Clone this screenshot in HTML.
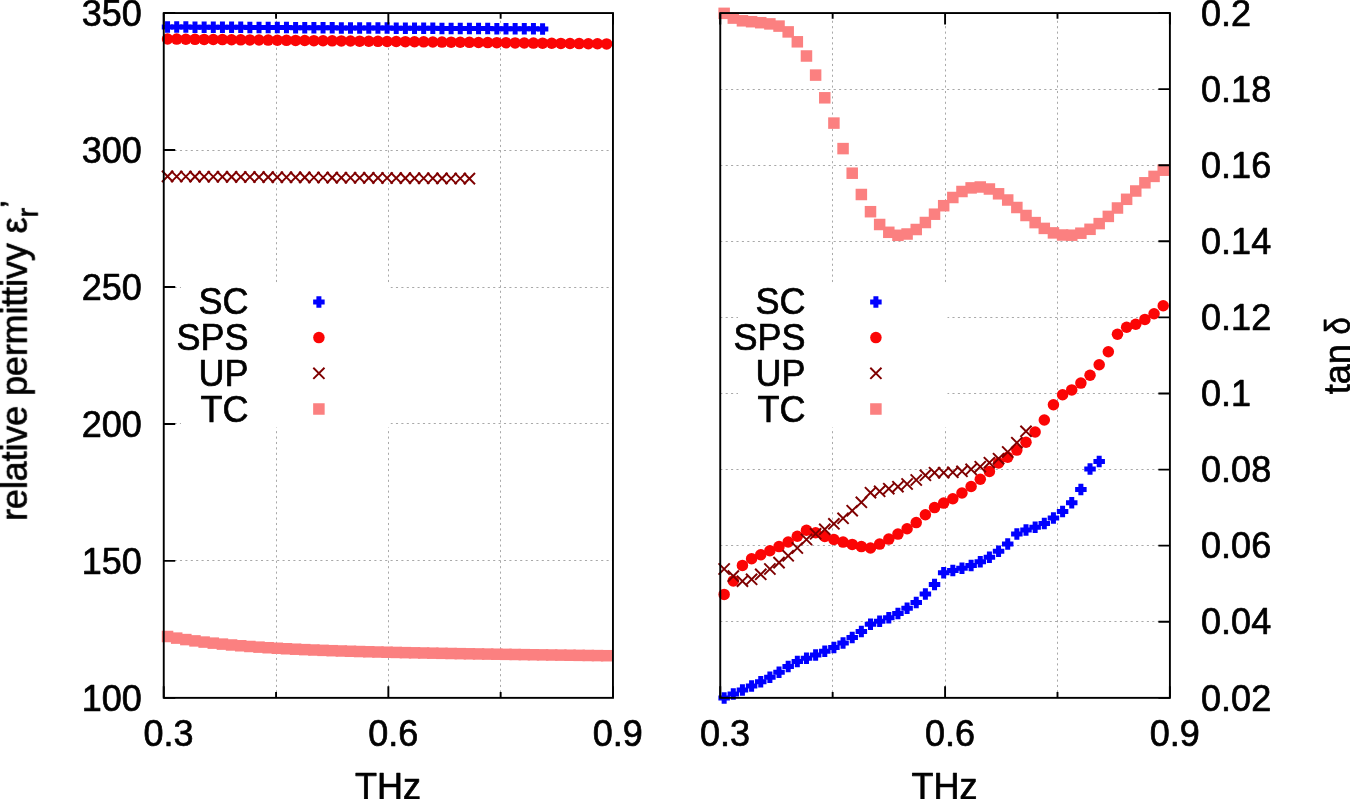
<!DOCTYPE html>
<html lang="en"><head><meta charset="utf-8"><title>plot</title>
<style>html,body{margin:0;padding:0;background:#fff}svg{display:block}</style></head>
<body>
<svg width="1350" height="799" viewBox="0 0 1350 799" font-family="'Liberation Sans', Arial, Helvetica, sans-serif" font-size="36" fill="#000">
<rect width="1350" height="799" fill="#fff"/>
<path d="M276.50 697.85V13.05" stroke="#9a9a9a" stroke-width="0.85" stroke-dasharray="2.1 3.3" fill="none"/>
<path d="M388.50 697.85V13.05" stroke="#9a9a9a" stroke-width="0.85" stroke-dasharray="2.1 3.3" fill="none"/>
<path d="M500.50 697.85V13.05" stroke="#9a9a9a" stroke-width="0.85" stroke-dasharray="2.1 3.3" fill="none"/>
<path d="M163.75 560.50H612.95" stroke="#9a9a9a" stroke-width="0.85" stroke-dasharray="2.1 3.3" fill="none"/>
<path d="M163.75 423.50H612.95" stroke="#9a9a9a" stroke-width="0.85" stroke-dasharray="2.1 3.3" fill="none"/>
<path d="M163.75 287.50H612.95" stroke="#9a9a9a" stroke-width="0.85" stroke-dasharray="2.1 3.3" fill="none"/>
<path d="M163.75 150.50H612.95" stroke="#9a9a9a" stroke-width="0.85" stroke-dasharray="2.1 3.3" fill="none"/>
<path d="M832.50 697.85V13.05" stroke="#9a9a9a" stroke-width="0.85" stroke-dasharray="2.1 3.3" fill="none"/>
<path d="M945.50 697.85V13.05" stroke="#9a9a9a" stroke-width="0.85" stroke-dasharray="2.1 3.3" fill="none"/>
<path d="M1057.50 697.85V13.05" stroke="#9a9a9a" stroke-width="0.85" stroke-dasharray="2.1 3.3" fill="none"/>
<path d="M720.25 621.50H1169.9" stroke="#9a9a9a" stroke-width="0.85" stroke-dasharray="2.1 3.3" fill="none"/>
<path d="M720.25 545.50H1169.9" stroke="#9a9a9a" stroke-width="0.85" stroke-dasharray="2.1 3.3" fill="none"/>
<path d="M720.25 469.50H1169.9" stroke="#9a9a9a" stroke-width="0.85" stroke-dasharray="2.1 3.3" fill="none"/>
<path d="M720.25 393.50H1169.9" stroke="#9a9a9a" stroke-width="0.85" stroke-dasharray="2.1 3.3" fill="none"/>
<path d="M720.25 317.50H1169.9" stroke="#9a9a9a" stroke-width="0.85" stroke-dasharray="2.1 3.3" fill="none"/>
<path d="M720.25 241.50H1169.9" stroke="#9a9a9a" stroke-width="0.85" stroke-dasharray="2.1 3.3" fill="none"/>
<path d="M720.25 165.50H1169.9" stroke="#9a9a9a" stroke-width="0.85" stroke-dasharray="2.1 3.3" fill="none"/>
<path d="M720.25 89.50H1169.9" stroke="#9a9a9a" stroke-width="0.85" stroke-dasharray="2.1 3.3" fill="none"/>
<rect x="181" y="285" width="209.5" height="142.5" fill="#fff"/>
<rect x="738" y="285" width="209.5" height="142.5" fill="#fff"/>
<path d="M165.05 21.25h5.0v3.25h3.25v5.0h-3.25v3.25h-5.0v-3.25h-3.25v-5.0h3.25z" fill="#0000ff"/>
<path d="M174.20 21.30h5.0v3.25h3.25v5.0h-3.25v3.25h-5.0v-3.25h-3.25v-5.0h3.25z" fill="#0000ff"/>
<path d="M183.34 21.34h5.0v3.25h3.25v5.0h-3.25v3.25h-5.0v-3.25h-3.25v-5.0h3.25z" fill="#0000ff"/>
<path d="M192.49 21.39h5.0v3.25h3.25v5.0h-3.25v3.25h-5.0v-3.25h-3.25v-5.0h3.25z" fill="#0000ff"/>
<path d="M201.64 21.44h5.0v3.25h3.25v5.0h-3.25v3.25h-5.0v-3.25h-3.25v-5.0h3.25z" fill="#0000ff"/>
<path d="M210.79 21.48h5.0v3.25h3.25v5.0h-3.25v3.25h-5.0v-3.25h-3.25v-5.0h3.25z" fill="#0000ff"/>
<path d="M219.93 21.53h5.0v3.25h3.25v5.0h-3.25v3.25h-5.0v-3.25h-3.25v-5.0h3.25z" fill="#0000ff"/>
<path d="M229.08 21.57h5.0v3.25h3.25v5.0h-3.25v3.25h-5.0v-3.25h-3.25v-5.0h3.25z" fill="#0000ff"/>
<path d="M238.23 21.62h5.0v3.25h3.25v5.0h-3.25v3.25h-5.0v-3.25h-3.25v-5.0h3.25z" fill="#0000ff"/>
<path d="M247.37 21.67h5.0v3.25h3.25v5.0h-3.25v3.25h-5.0v-3.25h-3.25v-5.0h3.25z" fill="#0000ff"/>
<path d="M256.52 21.71h5.0v3.25h3.25v5.0h-3.25v3.25h-5.0v-3.25h-3.25v-5.0h3.25z" fill="#0000ff"/>
<path d="M265.67 21.76h5.0v3.25h3.25v5.0h-3.25v3.25h-5.0v-3.25h-3.25v-5.0h3.25z" fill="#0000ff"/>
<path d="M274.81 21.81h5.0v3.25h3.25v5.0h-3.25v3.25h-5.0v-3.25h-3.25v-5.0h3.25z" fill="#0000ff"/>
<path d="M283.96 21.85h5.0v3.25h3.25v5.0h-3.25v3.25h-5.0v-3.25h-3.25v-5.0h3.25z" fill="#0000ff"/>
<path d="M293.11 21.90h5.0v3.25h3.25v5.0h-3.25v3.25h-5.0v-3.25h-3.25v-5.0h3.25z" fill="#0000ff"/>
<path d="M302.25 21.95h5.0v3.25h3.25v5.0h-3.25v3.25h-5.0v-3.25h-3.25v-5.0h3.25z" fill="#0000ff"/>
<path d="M311.40 21.99h5.0v3.25h3.25v5.0h-3.25v3.25h-5.0v-3.25h-3.25v-5.0h3.25z" fill="#0000ff"/>
<path d="M320.55 22.04h5.0v3.25h3.25v5.0h-3.25v3.25h-5.0v-3.25h-3.25v-5.0h3.25z" fill="#0000ff"/>
<path d="M329.70 22.08h5.0v3.25h3.25v5.0h-3.25v3.25h-5.0v-3.25h-3.25v-5.0h3.25z" fill="#0000ff"/>
<path d="M338.84 22.13h5.0v3.25h3.25v5.0h-3.25v3.25h-5.0v-3.25h-3.25v-5.0h3.25z" fill="#0000ff"/>
<path d="M347.99 22.18h5.0v3.25h3.25v5.0h-3.25v3.25h-5.0v-3.25h-3.25v-5.0h3.25z" fill="#0000ff"/>
<path d="M357.14 22.22h5.0v3.25h3.25v5.0h-3.25v3.25h-5.0v-3.25h-3.25v-5.0h3.25z" fill="#0000ff"/>
<path d="M366.28 22.27h5.0v3.25h3.25v5.0h-3.25v3.25h-5.0v-3.25h-3.25v-5.0h3.25z" fill="#0000ff"/>
<path d="M375.43 22.32h5.0v3.25h3.25v5.0h-3.25v3.25h-5.0v-3.25h-3.25v-5.0h3.25z" fill="#0000ff"/>
<path d="M384.58 22.36h5.0v3.25h3.25v5.0h-3.25v3.25h-5.0v-3.25h-3.25v-5.0h3.25z" fill="#0000ff"/>
<path d="M393.73 22.41h5.0v3.25h3.25v5.0h-3.25v3.25h-5.0v-3.25h-3.25v-5.0h3.25z" fill="#0000ff"/>
<path d="M402.87 22.45h5.0v3.25h3.25v5.0h-3.25v3.25h-5.0v-3.25h-3.25v-5.0h3.25z" fill="#0000ff"/>
<path d="M412.02 22.50h5.0v3.25h3.25v5.0h-3.25v3.25h-5.0v-3.25h-3.25v-5.0h3.25z" fill="#0000ff"/>
<path d="M421.17 22.55h5.0v3.25h3.25v5.0h-3.25v3.25h-5.0v-3.25h-3.25v-5.0h3.25z" fill="#0000ff"/>
<path d="M430.31 22.59h5.0v3.25h3.25v5.0h-3.25v3.25h-5.0v-3.25h-3.25v-5.0h3.25z" fill="#0000ff"/>
<path d="M439.46 22.64h5.0v3.25h3.25v5.0h-3.25v3.25h-5.0v-3.25h-3.25v-5.0h3.25z" fill="#0000ff"/>
<path d="M448.61 22.69h5.0v3.25h3.25v5.0h-3.25v3.25h-5.0v-3.25h-3.25v-5.0h3.25z" fill="#0000ff"/>
<path d="M457.75 22.73h5.0v3.25h3.25v5.0h-3.25v3.25h-5.0v-3.25h-3.25v-5.0h3.25z" fill="#0000ff"/>
<path d="M466.90 22.78h5.0v3.25h3.25v5.0h-3.25v3.25h-5.0v-3.25h-3.25v-5.0h3.25z" fill="#0000ff"/>
<path d="M476.05 22.83h5.0v3.25h3.25v5.0h-3.25v3.25h-5.0v-3.25h-3.25v-5.0h3.25z" fill="#0000ff"/>
<path d="M485.19 22.87h5.0v3.25h3.25v5.0h-3.25v3.25h-5.0v-3.25h-3.25v-5.0h3.25z" fill="#0000ff"/>
<path d="M494.34 22.92h5.0v3.25h3.25v5.0h-3.25v3.25h-5.0v-3.25h-3.25v-5.0h3.25z" fill="#0000ff"/>
<path d="M503.49 22.96h5.0v3.25h3.25v5.0h-3.25v3.25h-5.0v-3.25h-3.25v-5.0h3.25z" fill="#0000ff"/>
<path d="M512.64 23.01h5.0v3.25h3.25v5.0h-3.25v3.25h-5.0v-3.25h-3.25v-5.0h3.25z" fill="#0000ff"/>
<path d="M521.78 23.06h5.0v3.25h3.25v5.0h-3.25v3.25h-5.0v-3.25h-3.25v-5.0h3.25z" fill="#0000ff"/>
<path d="M530.93 23.10h5.0v3.25h3.25v5.0h-3.25v3.25h-5.0v-3.25h-3.25v-5.0h3.25z" fill="#0000ff"/>
<path d="M540.08 23.15h5.0v3.25h3.25v5.0h-3.25v3.25h-5.0v-3.25h-3.25v-5.0h3.25z" fill="#0000ff"/>
<circle cx="167.55" cy="39.00" r="5.75" fill="#fb0505"/>
<circle cx="176.70" cy="39.10" r="5.75" fill="#fb0505"/>
<circle cx="185.84" cy="39.20" r="5.75" fill="#fb0505"/>
<circle cx="194.99" cy="39.31" r="5.75" fill="#fb0505"/>
<circle cx="204.14" cy="39.41" r="5.75" fill="#fb0505"/>
<circle cx="213.29" cy="39.51" r="5.75" fill="#fb0505"/>
<circle cx="222.43" cy="39.61" r="5.75" fill="#fb0505"/>
<circle cx="231.58" cy="39.71" r="5.75" fill="#fb0505"/>
<circle cx="240.73" cy="39.82" r="5.75" fill="#fb0505"/>
<circle cx="249.87" cy="39.92" r="5.75" fill="#fb0505"/>
<circle cx="259.02" cy="40.02" r="5.75" fill="#fb0505"/>
<circle cx="268.17" cy="40.12" r="5.75" fill="#fb0505"/>
<circle cx="277.31" cy="40.23" r="5.75" fill="#fb0505"/>
<circle cx="286.46" cy="40.33" r="5.75" fill="#fb0505"/>
<circle cx="295.61" cy="40.43" r="5.75" fill="#fb0505"/>
<circle cx="304.75" cy="40.53" r="5.75" fill="#fb0505"/>
<circle cx="313.90" cy="40.63" r="5.75" fill="#fb0505"/>
<circle cx="323.05" cy="40.74" r="5.75" fill="#fb0505"/>
<circle cx="332.20" cy="40.84" r="5.75" fill="#fb0505"/>
<circle cx="341.34" cy="40.94" r="5.75" fill="#fb0505"/>
<circle cx="350.49" cy="41.04" r="5.75" fill="#fb0505"/>
<circle cx="359.64" cy="41.14" r="5.75" fill="#fb0505"/>
<circle cx="368.78" cy="41.25" r="5.75" fill="#fb0505"/>
<circle cx="377.93" cy="41.35" r="5.75" fill="#fb0505"/>
<circle cx="387.08" cy="41.45" r="5.75" fill="#fb0505"/>
<circle cx="396.23" cy="41.55" r="5.75" fill="#fb0505"/>
<circle cx="405.37" cy="41.65" r="5.75" fill="#fb0505"/>
<circle cx="414.52" cy="41.76" r="5.75" fill="#fb0505"/>
<circle cx="423.67" cy="41.86" r="5.75" fill="#fb0505"/>
<circle cx="432.81" cy="41.96" r="5.75" fill="#fb0505"/>
<circle cx="441.96" cy="42.06" r="5.75" fill="#fb0505"/>
<circle cx="451.11" cy="42.16" r="5.75" fill="#fb0505"/>
<circle cx="460.25" cy="42.27" r="5.75" fill="#fb0505"/>
<circle cx="469.40" cy="42.37" r="5.75" fill="#fb0505"/>
<circle cx="478.55" cy="42.47" r="5.75" fill="#fb0505"/>
<circle cx="487.69" cy="42.57" r="5.75" fill="#fb0505"/>
<circle cx="496.84" cy="42.67" r="5.75" fill="#fb0505"/>
<circle cx="505.99" cy="42.78" r="5.75" fill="#fb0505"/>
<circle cx="515.14" cy="42.88" r="5.75" fill="#fb0505"/>
<circle cx="524.28" cy="42.98" r="5.75" fill="#fb0505"/>
<circle cx="533.43" cy="43.08" r="5.75" fill="#fb0505"/>
<circle cx="542.58" cy="43.19" r="5.75" fill="#fb0505"/>
<circle cx="551.72" cy="43.29" r="5.75" fill="#fb0505"/>
<circle cx="560.87" cy="43.39" r="5.75" fill="#fb0505"/>
<circle cx="570.02" cy="43.49" r="5.75" fill="#fb0505"/>
<circle cx="579.16" cy="43.59" r="5.75" fill="#fb0505"/>
<circle cx="588.31" cy="43.70" r="5.75" fill="#fb0505"/>
<circle cx="597.46" cy="43.80" r="5.75" fill="#fb0505"/>
<circle cx="606.61" cy="43.90" r="5.75" fill="#fb0505"/>
<path d="M161.95 170.80l11.2 11.2M161.95 182.00l11.2 -11.2" stroke="#7f0000" stroke-width="1.95" fill="none"/>
<path d="M171.10 170.87l11.2 11.2M171.10 182.07l11.2 -11.2" stroke="#7f0000" stroke-width="1.95" fill="none"/>
<path d="M180.24 170.93l11.2 11.2M180.24 182.13l11.2 -11.2" stroke="#7f0000" stroke-width="1.95" fill="none"/>
<path d="M189.39 171.00l11.2 11.2M189.39 182.20l11.2 -11.2" stroke="#7f0000" stroke-width="1.95" fill="none"/>
<path d="M198.54 171.07l11.2 11.2M198.54 182.27l11.2 -11.2" stroke="#7f0000" stroke-width="1.95" fill="none"/>
<path d="M207.69 171.13l11.2 11.2M207.69 182.33l11.2 -11.2" stroke="#7f0000" stroke-width="1.95" fill="none"/>
<path d="M216.83 171.20l11.2 11.2M216.83 182.40l11.2 -11.2" stroke="#7f0000" stroke-width="1.95" fill="none"/>
<path d="M225.98 171.27l11.2 11.2M225.98 182.47l11.2 -11.2" stroke="#7f0000" stroke-width="1.95" fill="none"/>
<path d="M235.13 171.33l11.2 11.2M235.13 182.53l11.2 -11.2" stroke="#7f0000" stroke-width="1.95" fill="none"/>
<path d="M244.27 171.40l11.2 11.2M244.27 182.60l11.2 -11.2" stroke="#7f0000" stroke-width="1.95" fill="none"/>
<path d="M253.42 171.47l11.2 11.2M253.42 182.67l11.2 -11.2" stroke="#7f0000" stroke-width="1.95" fill="none"/>
<path d="M262.57 171.53l11.2 11.2M262.57 182.73l11.2 -11.2" stroke="#7f0000" stroke-width="1.95" fill="none"/>
<path d="M271.71 171.60l11.2 11.2M271.71 182.80l11.2 -11.2" stroke="#7f0000" stroke-width="1.95" fill="none"/>
<path d="M280.86 171.67l11.2 11.2M280.86 182.87l11.2 -11.2" stroke="#7f0000" stroke-width="1.95" fill="none"/>
<path d="M290.01 171.73l11.2 11.2M290.01 182.93l11.2 -11.2" stroke="#7f0000" stroke-width="1.95" fill="none"/>
<path d="M299.15 171.80l11.2 11.2M299.15 183.00l11.2 -11.2" stroke="#7f0000" stroke-width="1.95" fill="none"/>
<path d="M308.30 171.87l11.2 11.2M308.30 183.07l11.2 -11.2" stroke="#7f0000" stroke-width="1.95" fill="none"/>
<path d="M317.45 171.93l11.2 11.2M317.45 183.13l11.2 -11.2" stroke="#7f0000" stroke-width="1.95" fill="none"/>
<path d="M326.60 172.00l11.2 11.2M326.60 183.20l11.2 -11.2" stroke="#7f0000" stroke-width="1.95" fill="none"/>
<path d="M335.74 172.07l11.2 11.2M335.74 183.27l11.2 -11.2" stroke="#7f0000" stroke-width="1.95" fill="none"/>
<path d="M344.89 172.13l11.2 11.2M344.89 183.33l11.2 -11.2" stroke="#7f0000" stroke-width="1.95" fill="none"/>
<path d="M354.04 172.20l11.2 11.2M354.04 183.40l11.2 -11.2" stroke="#7f0000" stroke-width="1.95" fill="none"/>
<path d="M363.18 172.27l11.2 11.2M363.18 183.47l11.2 -11.2" stroke="#7f0000" stroke-width="1.95" fill="none"/>
<path d="M372.33 172.33l11.2 11.2M372.33 183.53l11.2 -11.2" stroke="#7f0000" stroke-width="1.95" fill="none"/>
<path d="M381.48 172.40l11.2 11.2M381.48 183.60l11.2 -11.2" stroke="#7f0000" stroke-width="1.95" fill="none"/>
<path d="M390.62 172.47l11.2 11.2M390.62 183.67l11.2 -11.2" stroke="#7f0000" stroke-width="1.95" fill="none"/>
<path d="M399.77 172.53l11.2 11.2M399.77 183.73l11.2 -11.2" stroke="#7f0000" stroke-width="1.95" fill="none"/>
<path d="M408.92 172.60l11.2 11.2M408.92 183.80l11.2 -11.2" stroke="#7f0000" stroke-width="1.95" fill="none"/>
<path d="M418.07 172.67l11.2 11.2M418.07 183.87l11.2 -11.2" stroke="#7f0000" stroke-width="1.95" fill="none"/>
<path d="M427.21 172.73l11.2 11.2M427.21 183.93l11.2 -11.2" stroke="#7f0000" stroke-width="1.95" fill="none"/>
<path d="M436.36 172.80l11.2 11.2M436.36 184.00l11.2 -11.2" stroke="#7f0000" stroke-width="1.95" fill="none"/>
<path d="M445.51 172.87l11.2 11.2M445.51 184.07l11.2 -11.2" stroke="#7f0000" stroke-width="1.95" fill="none"/>
<path d="M454.65 172.93l11.2 11.2M454.65 184.13l11.2 -11.2" stroke="#7f0000" stroke-width="1.95" fill="none"/>
<path d="M463.80 173.00l11.2 11.2M463.80 184.20l11.2 -11.2" stroke="#7f0000" stroke-width="1.95" fill="none"/>
<rect x="161.80" y="630.75" width="11.5" height="11.5" fill="#fb8080"/>
<rect x="170.95" y="632.37" width="11.5" height="11.5" fill="#fb8080"/>
<rect x="180.09" y="633.83" width="11.5" height="11.5" fill="#fb8080"/>
<rect x="189.24" y="635.14" width="11.5" height="11.5" fill="#fb8080"/>
<rect x="198.39" y="636.33" width="11.5" height="11.5" fill="#fb8080"/>
<rect x="207.54" y="637.39" width="11.5" height="11.5" fill="#fb8080"/>
<rect x="216.68" y="638.36" width="11.5" height="11.5" fill="#fb8080"/>
<rect x="225.83" y="639.23" width="11.5" height="11.5" fill="#fb8080"/>
<rect x="234.98" y="640.02" width="11.5" height="11.5" fill="#fb8080"/>
<rect x="244.12" y="640.73" width="11.5" height="11.5" fill="#fb8080"/>
<rect x="253.27" y="641.39" width="11.5" height="11.5" fill="#fb8080"/>
<rect x="262.42" y="641.98" width="11.5" height="11.5" fill="#fb8080"/>
<rect x="271.56" y="642.52" width="11.5" height="11.5" fill="#fb8080"/>
<rect x="280.71" y="643.01" width="11.5" height="11.5" fill="#fb8080"/>
<rect x="289.86" y="643.46" width="11.5" height="11.5" fill="#fb8080"/>
<rect x="299.00" y="643.88" width="11.5" height="11.5" fill="#fb8080"/>
<rect x="308.15" y="644.26" width="11.5" height="11.5" fill="#fb8080"/>
<rect x="317.30" y="644.61" width="11.5" height="11.5" fill="#fb8080"/>
<rect x="326.45" y="644.94" width="11.5" height="11.5" fill="#fb8080"/>
<rect x="335.59" y="645.24" width="11.5" height="11.5" fill="#fb8080"/>
<rect x="344.74" y="645.52" width="11.5" height="11.5" fill="#fb8080"/>
<rect x="353.89" y="645.79" width="11.5" height="11.5" fill="#fb8080"/>
<rect x="363.03" y="646.03" width="11.5" height="11.5" fill="#fb8080"/>
<rect x="372.18" y="646.27" width="11.5" height="11.5" fill="#fb8080"/>
<rect x="381.33" y="646.48" width="11.5" height="11.5" fill="#fb8080"/>
<rect x="390.48" y="646.69" width="11.5" height="11.5" fill="#fb8080"/>
<rect x="399.62" y="646.89" width="11.5" height="11.5" fill="#fb8080"/>
<rect x="408.77" y="647.07" width="11.5" height="11.5" fill="#fb8080"/>
<rect x="417.92" y="647.25" width="11.5" height="11.5" fill="#fb8080"/>
<rect x="427.06" y="647.42" width="11.5" height="11.5" fill="#fb8080"/>
<rect x="436.21" y="647.59" width="11.5" height="11.5" fill="#fb8080"/>
<rect x="445.36" y="647.75" width="11.5" height="11.5" fill="#fb8080"/>
<rect x="454.50" y="647.90" width="11.5" height="11.5" fill="#fb8080"/>
<rect x="463.65" y="648.05" width="11.5" height="11.5" fill="#fb8080"/>
<rect x="472.80" y="648.20" width="11.5" height="11.5" fill="#fb8080"/>
<rect x="481.94" y="648.34" width="11.5" height="11.5" fill="#fb8080"/>
<rect x="491.09" y="648.47" width="11.5" height="11.5" fill="#fb8080"/>
<rect x="500.24" y="648.61" width="11.5" height="11.5" fill="#fb8080"/>
<rect x="509.39" y="648.74" width="11.5" height="11.5" fill="#fb8080"/>
<rect x="518.53" y="648.87" width="11.5" height="11.5" fill="#fb8080"/>
<rect x="527.68" y="649.00" width="11.5" height="11.5" fill="#fb8080"/>
<rect x="536.83" y="649.12" width="11.5" height="11.5" fill="#fb8080"/>
<rect x="545.97" y="649.25" width="11.5" height="11.5" fill="#fb8080"/>
<rect x="555.12" y="649.37" width="11.5" height="11.5" fill="#fb8080"/>
<rect x="564.27" y="649.49" width="11.5" height="11.5" fill="#fb8080"/>
<rect x="573.41" y="649.61" width="11.5" height="11.5" fill="#fb8080"/>
<rect x="582.56" y="649.73" width="11.5" height="11.5" fill="#fb8080"/>
<rect x="591.71" y="649.84" width="11.5" height="11.5" fill="#fb8080"/>
<rect x="600.86" y="649.96" width="11.5" height="11.5" fill="#fb8080"/>
<path d="M721.65 692.25h5.0v3.25h3.25v5.0h-3.25v3.25h-5.0v-3.25h-3.25v-5.0h3.25z" fill="#0000ff"/>
<path d="M730.80 688.35h5.0v3.25h3.25v5.0h-3.25v3.25h-5.0v-3.25h-3.25v-5.0h3.25z" fill="#0000ff"/>
<path d="M739.94 684.35h5.0v3.25h3.25v5.0h-3.25v3.25h-5.0v-3.25h-3.25v-5.0h3.25z" fill="#0000ff"/>
<path d="M749.09 680.35h5.0v3.25h3.25v5.0h-3.25v3.25h-5.0v-3.25h-3.25v-5.0h3.25z" fill="#0000ff"/>
<path d="M758.24 676.05h5.0v3.25h3.25v5.0h-3.25v3.25h-5.0v-3.25h-3.25v-5.0h3.25z" fill="#0000ff"/>
<path d="M767.38 671.45h5.0v3.25h3.25v5.0h-3.25v3.25h-5.0v-3.25h-3.25v-5.0h3.25z" fill="#0000ff"/>
<path d="M776.53 666.55h5.0v3.25h3.25v5.0h-3.25v3.25h-5.0v-3.25h-3.25v-5.0h3.25z" fill="#0000ff"/>
<path d="M785.68 660.85h5.0v3.25h3.25v5.0h-3.25v3.25h-5.0v-3.25h-3.25v-5.0h3.25z" fill="#0000ff"/>
<path d="M794.83 655.85h5.0v3.25h3.25v5.0h-3.25v3.25h-5.0v-3.25h-3.25v-5.0h3.25z" fill="#0000ff"/>
<path d="M803.97 652.45h5.0v3.25h3.25v5.0h-3.25v3.25h-5.0v-3.25h-3.25v-5.0h3.25z" fill="#0000ff"/>
<path d="M813.12 649.25h5.0v3.25h3.25v5.0h-3.25v3.25h-5.0v-3.25h-3.25v-5.0h3.25z" fill="#0000ff"/>
<path d="M822.27 645.55h5.0v3.25h3.25v5.0h-3.25v3.25h-5.0v-3.25h-3.25v-5.0h3.25z" fill="#0000ff"/>
<path d="M831.41 641.65h5.0v3.25h3.25v5.0h-3.25v3.25h-5.0v-3.25h-3.25v-5.0h3.25z" fill="#0000ff"/>
<path d="M840.56 637.15h5.0v3.25h3.25v5.0h-3.25v3.25h-5.0v-3.25h-3.25v-5.0h3.25z" fill="#0000ff"/>
<path d="M849.71 631.85h5.0v3.25h3.25v5.0h-3.25v3.25h-5.0v-3.25h-3.25v-5.0h3.25z" fill="#0000ff"/>
<path d="M858.86 625.65h5.0v3.25h3.25v5.0h-3.25v3.25h-5.0v-3.25h-3.25v-5.0h3.25z" fill="#0000ff"/>
<path d="M868.00 618.55h5.0v3.25h3.25v5.0h-3.25v3.25h-5.0v-3.25h-3.25v-5.0h3.25z" fill="#0000ff"/>
<path d="M877.15 615.45h5.0v3.25h3.25v5.0h-3.25v3.25h-5.0v-3.25h-3.25v-5.0h3.25z" fill="#0000ff"/>
<path d="M886.30 611.95h5.0v3.25h3.25v5.0h-3.25v3.25h-5.0v-3.25h-3.25v-5.0h3.25z" fill="#0000ff"/>
<path d="M895.44 607.85h5.0v3.25h3.25v5.0h-3.25v3.25h-5.0v-3.25h-3.25v-5.0h3.25z" fill="#0000ff"/>
<path d="M904.59 602.55h5.0v3.25h3.25v5.0h-3.25v3.25h-5.0v-3.25h-3.25v-5.0h3.25z" fill="#0000ff"/>
<path d="M913.74 596.85h5.0v3.25h3.25v5.0h-3.25v3.25h-5.0v-3.25h-3.25v-5.0h3.25z" fill="#0000ff"/>
<path d="M922.88 588.25h5.0v3.25h3.25v5.0h-3.25v3.25h-5.0v-3.25h-3.25v-5.0h3.25z" fill="#0000ff"/>
<path d="M932.03 578.65h5.0v3.25h3.25v5.0h-3.25v3.25h-5.0v-3.25h-3.25v-5.0h3.25z" fill="#0000ff"/>
<path d="M941.18 567.05h5.0v3.25h3.25v5.0h-3.25v3.25h-5.0v-3.25h-3.25v-5.0h3.25z" fill="#0000ff"/>
<path d="M950.33 564.85h5.0v3.25h3.25v5.0h-3.25v3.25h-5.0v-3.25h-3.25v-5.0h3.25z" fill="#0000ff"/>
<path d="M959.47 562.55h5.0v3.25h3.25v5.0h-3.25v3.25h-5.0v-3.25h-3.25v-5.0h3.25z" fill="#0000ff"/>
<path d="M968.62 559.75h5.0v3.25h3.25v5.0h-3.25v3.25h-5.0v-3.25h-3.25v-5.0h3.25z" fill="#0000ff"/>
<path d="M977.77 555.95h5.0v3.25h3.25v5.0h-3.25v3.25h-5.0v-3.25h-3.25v-5.0h3.25z" fill="#0000ff"/>
<path d="M986.91 551.55h5.0v3.25h3.25v5.0h-3.25v3.25h-5.0v-3.25h-3.25v-5.0h3.25z" fill="#0000ff"/>
<path d="M996.06 545.55h5.0v3.25h3.25v5.0h-3.25v3.25h-5.0v-3.25h-3.25v-5.0h3.25z" fill="#0000ff"/>
<path d="M1005.21 538.35h5.0v3.25h3.25v5.0h-3.25v3.25h-5.0v-3.25h-3.25v-5.0h3.25z" fill="#0000ff"/>
<path d="M1014.35 528.35h5.0v3.25h3.25v5.0h-3.25v3.25h-5.0v-3.25h-3.25v-5.0h3.25z" fill="#0000ff"/>
<path d="M1023.50 524.35h5.0v3.25h3.25v5.0h-3.25v3.25h-5.0v-3.25h-3.25v-5.0h3.25z" fill="#0000ff"/>
<path d="M1032.65 521.55h5.0v3.25h3.25v5.0h-3.25v3.25h-5.0v-3.25h-3.25v-5.0h3.25z" fill="#0000ff"/>
<path d="M1041.80 517.75h5.0v3.25h3.25v5.0h-3.25v3.25h-5.0v-3.25h-3.25v-5.0h3.25z" fill="#0000ff"/>
<path d="M1050.94 512.35h5.0v3.25h3.25v5.0h-3.25v3.25h-5.0v-3.25h-3.25v-5.0h3.25z" fill="#0000ff"/>
<path d="M1060.09 505.75h5.0v3.25h3.25v5.0h-3.25v3.25h-5.0v-3.25h-3.25v-5.0h3.25z" fill="#0000ff"/>
<path d="M1069.24 496.95h5.0v3.25h3.25v5.0h-3.25v3.25h-5.0v-3.25h-3.25v-5.0h3.25z" fill="#0000ff"/>
<path d="M1078.38 483.85h5.0v3.25h3.25v5.0h-3.25v3.25h-5.0v-3.25h-3.25v-5.0h3.25z" fill="#0000ff"/>
<path d="M1087.53 463.25h5.0v3.25h3.25v5.0h-3.25v3.25h-5.0v-3.25h-3.25v-5.0h3.25z" fill="#0000ff"/>
<path d="M1096.68 455.85h5.0v3.25h3.25v5.0h-3.25v3.25h-5.0v-3.25h-3.25v-5.0h3.25z" fill="#0000ff"/>
<circle cx="724.15" cy="594.40" r="5.75" fill="#fb0505"/>
<circle cx="733.30" cy="580.90" r="5.75" fill="#fb0505"/>
<circle cx="742.44" cy="565.40" r="5.75" fill="#fb0505"/>
<circle cx="751.59" cy="558.70" r="5.75" fill="#fb0505"/>
<circle cx="760.74" cy="554.80" r="5.75" fill="#fb0505"/>
<circle cx="769.88" cy="550.70" r="5.75" fill="#fb0505"/>
<circle cx="779.03" cy="546.60" r="5.75" fill="#fb0505"/>
<circle cx="788.18" cy="542.00" r="5.75" fill="#fb0505"/>
<circle cx="797.33" cy="536.30" r="5.75" fill="#fb0505"/>
<circle cx="806.47" cy="530.20" r="5.75" fill="#fb0505"/>
<circle cx="815.62" cy="532.70" r="5.75" fill="#fb0505"/>
<circle cx="824.77" cy="536.40" r="5.75" fill="#fb0505"/>
<circle cx="833.91" cy="539.50" r="5.75" fill="#fb0505"/>
<circle cx="843.06" cy="542.10" r="5.75" fill="#fb0505"/>
<circle cx="852.21" cy="544.40" r="5.75" fill="#fb0505"/>
<circle cx="861.36" cy="546.60" r="5.75" fill="#fb0505"/>
<circle cx="870.50" cy="548.00" r="5.75" fill="#fb0505"/>
<circle cx="879.65" cy="544.10" r="5.75" fill="#fb0505"/>
<circle cx="888.80" cy="539.10" r="5.75" fill="#fb0505"/>
<circle cx="897.94" cy="534.10" r="5.75" fill="#fb0505"/>
<circle cx="907.09" cy="528.80" r="5.75" fill="#fb0505"/>
<circle cx="916.24" cy="522.60" r="5.75" fill="#fb0505"/>
<circle cx="925.38" cy="514.70" r="5.75" fill="#fb0505"/>
<circle cx="934.53" cy="507.60" r="5.75" fill="#fb0505"/>
<circle cx="943.68" cy="503.10" r="5.75" fill="#fb0505"/>
<circle cx="952.83" cy="498.70" r="5.75" fill="#fb0505"/>
<circle cx="961.97" cy="493.00" r="5.75" fill="#fb0505"/>
<circle cx="971.12" cy="486.50" r="5.75" fill="#fb0505"/>
<circle cx="980.27" cy="479.20" r="5.75" fill="#fb0505"/>
<circle cx="989.41" cy="471.40" r="5.75" fill="#fb0505"/>
<circle cx="998.56" cy="462.90" r="5.75" fill="#fb0505"/>
<circle cx="1007.71" cy="457.20" r="5.75" fill="#fb0505"/>
<circle cx="1016.85" cy="450.10" r="5.75" fill="#fb0505"/>
<circle cx="1026.00" cy="442.20" r="5.75" fill="#fb0505"/>
<circle cx="1035.15" cy="432.00" r="5.75" fill="#fb0505"/>
<circle cx="1044.30" cy="420.00" r="5.75" fill="#fb0505"/>
<circle cx="1053.44" cy="404.80" r="5.75" fill="#fb0505"/>
<circle cx="1062.59" cy="394.80" r="5.75" fill="#fb0505"/>
<circle cx="1071.74" cy="389.90" r="5.75" fill="#fb0505"/>
<circle cx="1080.88" cy="383.10" r="5.75" fill="#fb0505"/>
<circle cx="1090.03" cy="375.20" r="5.75" fill="#fb0505"/>
<circle cx="1099.18" cy="364.80" r="5.75" fill="#fb0505"/>
<circle cx="1108.32" cy="351.70" r="5.75" fill="#fb0505"/>
<circle cx="1117.47" cy="334.20" r="5.75" fill="#fb0505"/>
<circle cx="1126.62" cy="327.30" r="5.75" fill="#fb0505"/>
<circle cx="1135.76" cy="324.20" r="5.75" fill="#fb0505"/>
<circle cx="1144.91" cy="319.40" r="5.75" fill="#fb0505"/>
<circle cx="1154.06" cy="313.70" r="5.75" fill="#fb0505"/>
<circle cx="1163.21" cy="305.80" r="5.75" fill="#fb0505"/>
<path d="M718.55 563.40l11.2 11.2M718.55 574.60l11.2 -11.2" stroke="#7f0000" stroke-width="1.95" fill="none"/>
<path d="M727.70 570.50l11.2 11.2M727.70 581.70l11.2 -11.2" stroke="#7f0000" stroke-width="1.95" fill="none"/>
<path d="M736.84 575.60l11.2 11.2M736.84 586.80l11.2 -11.2" stroke="#7f0000" stroke-width="1.95" fill="none"/>
<path d="M745.99 573.70l11.2 11.2M745.99 584.90l11.2 -11.2" stroke="#7f0000" stroke-width="1.95" fill="none"/>
<path d="M755.14 568.70l11.2 11.2M755.14 579.90l11.2 -11.2" stroke="#7f0000" stroke-width="1.95" fill="none"/>
<path d="M764.28 563.40l11.2 11.2M764.28 574.60l11.2 -11.2" stroke="#7f0000" stroke-width="1.95" fill="none"/>
<path d="M773.43 557.00l11.2 11.2M773.43 568.20l11.2 -11.2" stroke="#7f0000" stroke-width="1.95" fill="none"/>
<path d="M782.58 550.20l11.2 11.2M782.58 561.40l11.2 -11.2" stroke="#7f0000" stroke-width="1.95" fill="none"/>
<path d="M791.73 542.40l11.2 11.2M791.73 553.60l11.2 -11.2" stroke="#7f0000" stroke-width="1.95" fill="none"/>
<path d="M800.87 533.90l11.2 11.2M800.87 545.10l11.2 -11.2" stroke="#7f0000" stroke-width="1.95" fill="none"/>
<path d="M810.02 528.20l11.2 11.2M810.02 539.40l11.2 -11.2" stroke="#7f0000" stroke-width="1.95" fill="none"/>
<path d="M819.17 523.70l11.2 11.2M819.17 534.90l11.2 -11.2" stroke="#7f0000" stroke-width="1.95" fill="none"/>
<path d="M828.31 518.20l11.2 11.2M828.31 529.40l11.2 -11.2" stroke="#7f0000" stroke-width="1.95" fill="none"/>
<path d="M837.46 512.70l11.2 11.2M837.46 523.90l11.2 -11.2" stroke="#7f0000" stroke-width="1.95" fill="none"/>
<path d="M846.61 505.10l11.2 11.2M846.61 516.30l11.2 -11.2" stroke="#7f0000" stroke-width="1.95" fill="none"/>
<path d="M855.75 496.70l11.2 11.2M855.75 507.90l11.2 -11.2" stroke="#7f0000" stroke-width="1.95" fill="none"/>
<path d="M864.90 487.10l11.2 11.2M864.90 498.30l11.2 -11.2" stroke="#7f0000" stroke-width="1.95" fill="none"/>
<path d="M874.05 485.70l11.2 11.2M874.05 496.90l11.2 -11.2" stroke="#7f0000" stroke-width="1.95" fill="none"/>
<path d="M883.20 483.10l11.2 11.2M883.20 494.30l11.2 -11.2" stroke="#7f0000" stroke-width="1.95" fill="none"/>
<path d="M892.34 481.10l11.2 11.2M892.34 492.30l11.2 -11.2" stroke="#7f0000" stroke-width="1.95" fill="none"/>
<path d="M901.49 478.40l11.2 11.2M901.49 489.60l11.2 -11.2" stroke="#7f0000" stroke-width="1.95" fill="none"/>
<path d="M910.64 474.40l11.2 11.2M910.64 485.60l11.2 -11.2" stroke="#7f0000" stroke-width="1.95" fill="none"/>
<path d="M919.78 469.70l11.2 11.2M919.78 480.90l11.2 -11.2" stroke="#7f0000" stroke-width="1.95" fill="none"/>
<path d="M928.93 467.10l11.2 11.2M928.93 478.30l11.2 -11.2" stroke="#7f0000" stroke-width="1.95" fill="none"/>
<path d="M938.08 467.10l11.2 11.2M938.08 478.30l11.2 -11.2" stroke="#7f0000" stroke-width="1.95" fill="none"/>
<path d="M947.23 466.70l11.2 11.2M947.23 477.90l11.2 -11.2" stroke="#7f0000" stroke-width="1.95" fill="none"/>
<path d="M956.37 465.70l11.2 11.2M956.37 476.90l11.2 -11.2" stroke="#7f0000" stroke-width="1.95" fill="none"/>
<path d="M965.52 463.70l11.2 11.2M965.52 474.90l11.2 -11.2" stroke="#7f0000" stroke-width="1.95" fill="none"/>
<path d="M974.67 461.10l11.2 11.2M974.67 472.30l11.2 -11.2" stroke="#7f0000" stroke-width="1.95" fill="none"/>
<path d="M983.81 457.10l11.2 11.2M983.81 468.30l11.2 -11.2" stroke="#7f0000" stroke-width="1.95" fill="none"/>
<path d="M992.96 453.10l11.2 11.2M992.96 464.30l11.2 -11.2" stroke="#7f0000" stroke-width="1.95" fill="none"/>
<path d="M1002.11 446.40l11.2 11.2M1002.11 457.60l11.2 -11.2" stroke="#7f0000" stroke-width="1.95" fill="none"/>
<path d="M1011.25 437.10l11.2 11.2M1011.25 448.30l11.2 -11.2" stroke="#7f0000" stroke-width="1.95" fill="none"/>
<path d="M1020.40 425.70l11.2 11.2M1020.40 436.90l11.2 -11.2" stroke="#7f0000" stroke-width="1.95" fill="none"/>
<rect x="718.40" y="7.60" width="11.5" height="11.5" fill="#fb8080"/>
<rect x="727.55" y="12.35" width="11.5" height="11.5" fill="#fb8080"/>
<rect x="736.69" y="15.05" width="11.5" height="11.5" fill="#fb8080"/>
<rect x="745.84" y="15.95" width="11.5" height="11.5" fill="#fb8080"/>
<rect x="754.99" y="16.95" width="11.5" height="11.5" fill="#fb8080"/>
<rect x="764.13" y="18.15" width="11.5" height="11.5" fill="#fb8080"/>
<rect x="773.28" y="20.35" width="11.5" height="11.5" fill="#fb8080"/>
<rect x="782.43" y="26.15" width="11.5" height="11.5" fill="#fb8080"/>
<rect x="791.58" y="36.05" width="11.5" height="11.5" fill="#fb8080"/>
<rect x="800.72" y="50.25" width="11.5" height="11.5" fill="#fb8080"/>
<rect x="809.87" y="69.35" width="11.5" height="11.5" fill="#fb8080"/>
<rect x="819.02" y="92.05" width="11.5" height="11.5" fill="#fb8080"/>
<rect x="828.16" y="117.35" width="11.5" height="11.5" fill="#fb8080"/>
<rect x="837.31" y="142.85" width="11.5" height="11.5" fill="#fb8080"/>
<rect x="846.46" y="167.45" width="11.5" height="11.5" fill="#fb8080"/>
<rect x="855.61" y="188.75" width="11.5" height="11.5" fill="#fb8080"/>
<rect x="864.75" y="205.95" width="11.5" height="11.5" fill="#fb8080"/>
<rect x="873.90" y="218.75" width="11.5" height="11.5" fill="#fb8080"/>
<rect x="883.05" y="226.55" width="11.5" height="11.5" fill="#fb8080"/>
<rect x="892.19" y="229.55" width="11.5" height="11.5" fill="#fb8080"/>
<rect x="901.34" y="228.25" width="11.5" height="11.5" fill="#fb8080"/>
<rect x="910.49" y="223.75" width="11.5" height="11.5" fill="#fb8080"/>
<rect x="919.63" y="216.75" width="11.5" height="11.5" fill="#fb8080"/>
<rect x="928.78" y="208.45" width="11.5" height="11.5" fill="#fb8080"/>
<rect x="937.93" y="199.95" width="11.5" height="11.5" fill="#fb8080"/>
<rect x="947.08" y="191.75" width="11.5" height="11.5" fill="#fb8080"/>
<rect x="956.22" y="185.75" width="11.5" height="11.5" fill="#fb8080"/>
<rect x="965.37" y="182.15" width="11.5" height="11.5" fill="#fb8080"/>
<rect x="974.52" y="181.25" width="11.5" height="11.5" fill="#fb8080"/>
<rect x="983.66" y="183.25" width="11.5" height="11.5" fill="#fb8080"/>
<rect x="992.81" y="188.05" width="11.5" height="11.5" fill="#fb8080"/>
<rect x="1001.96" y="194.25" width="11.5" height="11.5" fill="#fb8080"/>
<rect x="1011.10" y="201.75" width="11.5" height="11.5" fill="#fb8080"/>
<rect x="1020.25" y="209.75" width="11.5" height="11.5" fill="#fb8080"/>
<rect x="1029.40" y="216.85" width="11.5" height="11.5" fill="#fb8080"/>
<rect x="1038.55" y="222.65" width="11.5" height="11.5" fill="#fb8080"/>
<rect x="1047.69" y="227.15" width="11.5" height="11.5" fill="#fb8080"/>
<rect x="1056.84" y="229.25" width="11.5" height="11.5" fill="#fb8080"/>
<rect x="1065.99" y="229.45" width="11.5" height="11.5" fill="#fb8080"/>
<rect x="1075.13" y="227.45" width="11.5" height="11.5" fill="#fb8080"/>
<rect x="1084.28" y="223.55" width="11.5" height="11.5" fill="#fb8080"/>
<rect x="1093.43" y="217.85" width="11.5" height="11.5" fill="#fb8080"/>
<rect x="1102.57" y="210.65" width="11.5" height="11.5" fill="#fb8080"/>
<rect x="1111.72" y="202.25" width="11.5" height="11.5" fill="#fb8080"/>
<rect x="1120.87" y="193.55" width="11.5" height="11.5" fill="#fb8080"/>
<rect x="1130.01" y="185.25" width="11.5" height="11.5" fill="#fb8080"/>
<rect x="1139.16" y="177.05" width="11.5" height="11.5" fill="#fb8080"/>
<rect x="1148.31" y="170.65" width="11.5" height="11.5" fill="#fb8080"/>
<rect x="1157.46" y="164.45" width="11.5" height="11.5" fill="#fb8080"/>
<path d="M316.40 296.15h5.0v3.25h3.25v5.0h-3.25v3.25h-5.0v-3.25h-3.25v-5.0h3.25z" fill="#0000ff"/>
<circle cx="318.90" cy="337.60" r="5.75" fill="#fb0505"/>
<path d="M313.30 367.70l11.2 11.2M313.30 378.90l11.2 -11.2" stroke="#7f0000" stroke-width="1.95" fill="none"/>
<rect x="313.15" y="403.25" width="11.5" height="11.5" fill="#fb8080"/>
<path d="M873.40 296.15h5.0v3.25h3.25v5.0h-3.25v3.25h-5.0v-3.25h-3.25v-5.0h3.25z" fill="#0000ff"/>
<circle cx="875.90" cy="337.60" r="5.75" fill="#fb0505"/>
<path d="M870.30 367.70l11.2 11.2M870.30 378.90l11.2 -11.2" stroke="#7f0000" stroke-width="1.95" fill="none"/>
<rect x="870.15" y="403.25" width="11.5" height="11.5" fill="#fb8080"/>
<rect x="163.75" y="13.05" width="449.20000000000005" height="684.8000000000001" stroke="#000" stroke-width="1.9" fill="none"/>
<path d="M163.75 697.85v-11.5M163.75 13.05v11.5M276.05 697.85v-5.8M276.05 13.05v5.8M388.35 697.85v-11.5M388.35 13.05v11.5M500.65 697.85v-5.8M500.65 13.05v5.8M612.95 697.85v-11.5M612.95 13.05v11.5M163.75 697.85h11.5M163.75 560.89h11.5M163.75 423.93h11.5M163.75 286.97h11.5M163.75 150.01h11.5M163.75 13.05h11.5" stroke="#000" stroke-width="1.9" fill="none"/>
<rect x="720.25" y="13.05" width="449.6500000000001" height="684.8000000000001" stroke="#000" stroke-width="1.9" fill="none"/>
<path d="M720.25 697.85v-11.5M720.25 13.05v11.5M832.66 697.85v-5.8M832.66 13.05v5.8M945.08 697.85v-11.5M945.08 13.05v11.5M1057.49 697.85v-5.8M1057.49 13.05v5.8M1169.90 697.85v-11.5M1169.90 13.05v11.5M1169.9 697.85h-11.5M1169.9 621.76h-11.5M1169.9 545.67h-11.5M1169.9 469.58h-11.5M1169.9 393.49h-11.5M1169.9 317.41h-11.5M1169.9 241.32h-11.5M1169.9 165.23h-11.5M1169.9 89.14h-11.5M1169.9 13.05h-11.5" stroke="#000" stroke-width="1.9" fill="none"/>
<g style="will-change:opacity;isolation:isolate" opacity="0.9999" stroke="#000" stroke-width="0.7" stroke-linejoin="round"><text x="248.5" y="314.4" text-anchor="end">SC</text>
<text x="248.5" y="350.1" text-anchor="end">SPS</text>
<text x="248.5" y="385.8" text-anchor="end">UP</text>
<text x="248.5" y="421.5" text-anchor="end">TC</text>
<text x="805.5" y="314.4" text-anchor="end">SC</text>
<text x="805.5" y="350.1" text-anchor="end">SPS</text>
<text x="805.5" y="385.8" text-anchor="end">UP</text>
<text x="805.5" y="421.5" text-anchor="end">TC</text>
<text x="141.8" y="710.9" text-anchor="end">100</text>
<text x="141.8" y="573.9" text-anchor="end">150</text>
<text x="141.8" y="436.9" text-anchor="end">200</text>
<text x="141.8" y="300.0" text-anchor="end">250</text>
<text x="141.8" y="163.0" text-anchor="end">300</text>
<text x="141.8" y="26.0" text-anchor="end">350</text>
<text x="1201.1" y="710.5">0.02</text>
<text x="1201.1" y="634.4">0.04</text>
<text x="1201.1" y="558.3">0.06</text>
<text x="1201.1" y="482.2">0.08</text>
<text x="1201.1" y="406.1">0.1</text>
<text x="1201.1" y="330.0">0.12</text>
<text x="1201.1" y="253.9">0.14</text>
<text x="1201.1" y="177.8">0.16</text>
<text x="1201.1" y="101.7">0.18</text>
<text x="1201.1" y="25.6">0.2</text>
<text x="168.6" y="746.4" text-anchor="middle">0.3</text>
<text x="393.2" y="746.4" text-anchor="middle">0.6</text>
<text x="617.8" y="746.4" text-anchor="middle">0.9</text>
<text x="387.9" y="799" text-anchor="middle">THz</text>
<text x="725.0" y="746.4" text-anchor="middle">0.3</text>
<text x="949.9" y="746.4" text-anchor="middle">0.6</text>
<text x="1174.7" y="746.4" text-anchor="middle">0.9</text>
<text x="944.6" y="799" text-anchor="middle">THz</text>
<text transform="translate(26.8 520.9) rotate(-90)" letter-spacing="-0.13">relative permittivy ε<tspan font-size="28.8" dy="10.8">r</tspan><tspan font-size="34" dy="-13.5">’</tspan></text>
<text transform="translate(1349.7 394.3) rotate(-90)">tan</text>
<text transform="translate(1349.7 334.4) rotate(-90) scale(0.9 1)" font-size="34.5">δ</text></g>
</svg>
</body></html>
